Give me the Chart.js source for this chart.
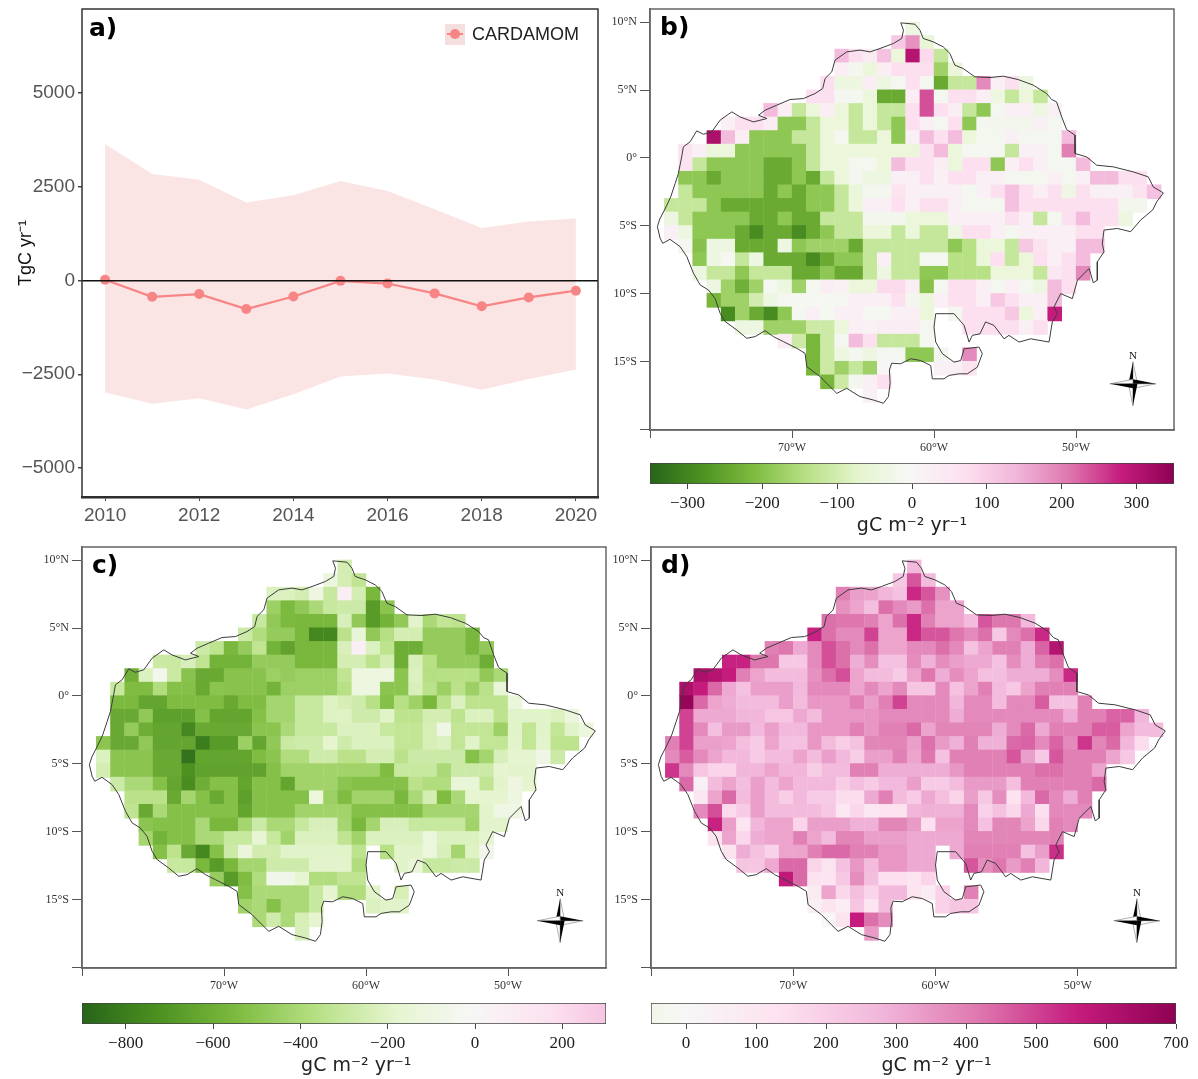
<!DOCTYPE html>
<html>
<head>
<meta charset="utf-8">
<script src="https://cdn.jsdelivr.net/npm/chart.js@4/dist/chart.umd.min.js"></script>
<style>
  body { margin: 0; background: #fff; }
  #page { position: relative; width: 1198px; height: 1079px; overflow: hidden; }
  canvas { position: absolute; }
</style>
</head>
<body>
<div id="page">
  <canvas id="panelA" style="left:0;top:6px" width="604" height="524"></canvas>
  <canvas id="panelB" style="left:605px;top:6px" width="572" height="459"></canvas>
  <canvas id="panelC" style="left:37px;top:544px" width="572" height="459"></canvas>
  <canvas id="panelD" style="left:606px;top:544px" width="573" height="459"></canvas>
  <canvas id="barB" style="left:630px;top:461px" width="564" height="76"></canvas>
  <canvas id="barC" style="left:62px;top:1001px" width="564" height="76"></canvas>
  <canvas id="barD" style="left:631px;top:1001px" width="565" height="76"></canvas>
</div>
<script>
// panel a: yearly flux with its range
const years = [2010, 2011, 2012, 2013, 2014, 2015, 2016, 2017, 2018, 2019, 2020];
const fluxMean = [18, -434, -362, -760, -425, -9, -81, -344, -688, -452, -271];
const fluxUpper = [3638, 2842, 2688, 2081, 2271, 2652, 2389, 1900, 1403, 1575, 1656];
const fluxLower = [-2986, -3285, -3140, -3439, -3032, -2561, -2480, -2643, -2914, -2625, -2371];
const fluxTicks = [-5000, -2500, 0, 2500, 5000];
const yearTicks = [2010, 2012, 2014, 2016, 2018, 2020];

// map grid: each row has its northern edge and the western edge of its first 1 degree cell
const rowLats = [10, 9, 8, 7, 6, 5, 4, 3, 2, 1, 0, -1, -2, -3, -4, -5, -6, -7, -8, -9, -10, -11, -12, -13, -14, -15, -16, -17];
const rowStarts = [-62, -63, -67, -67, -68, -69, -72, -75, -77, -78, -78, -78, -78, -79, -79, -79, -78, -77, -77, -76, -76, -75, -74, -71, -69, -69, -68, -65];

const mapB = [
  [-40],
  [110, 180, -60],
  [130, 70, 40, 120, -50, 300, 80, -120],
  [30, -15, -50, 30, 70, 70, 70, -170, -50],
  [70, -40, -40, 30, -40, -15, 70, -15, -240, -120, -120, 190, 25, 70, -40],
  [70, 70, -15, -15, -50, -240, -240, 30, 240, -15, 70, 70, 30, -40, -120, -50, -120],
  [130, 30, -120, -50, 30, -50, -120, -50, -120, -120, 70, 240, 70, 30, -120, -190, -15, 25, 25, -40, 20],
  [25, 70, 70, 30, -190, -190, -120, -50, -50, -120, -50, -120, -190, 70, 25, -15, 70, -190, -15, -20, -20, -20, 20, -15],
  [null, 310, 130, 30, -190, -190, -190, -120, -120, -50, -15, -120, -120, -50, -190, 20, 130, 70, 130, -50, -15, -15, 20, -15, -15, -15, 130],
  [60, 25, -50, -50, -190, -190, -190, -190, -190, -120, -50, -50, -50, -50, -50, -50, -50, 70, 130, -50, -15, -15, -15, -120, 20, 20, -15, 200],
  [60, -120, -190, -190, -190, -190, -240, -240, -190, -120, -50, -50, -15, -15, -50, 130, 70, 70, 30, -50, 70, 70, -190, 25, 70, 25, -15, -15, 130],
  [-190, -190, -240, -190, -190, -190, -240, -240, -190, -240, -120, -50, -15, -40, -40, 25, 25, 70, 25, 70, 70, 25, 25, -15, -15, -15, 25, -15, 25, 130, 130, 70, 70],
  [-120, -190, -190, -190, -190, -190, -240, -190, -240, -190, -190, -120, -50, -15, -15, 60, 25, 20, 20, 20, -15, 25, 70, 120, 70, 30, 70, -30, 70, 20, 20, 20, 60, 120],
  [-120, -120, -120, -190, -240, -240, -240, -240, -240, -240, -190, -190, -120, -50, 25, 25, 70, 25, 70, 70, 20, -15, -15, -15, 120, 70, 70, 70, 70, 70, 70, 70, -20, -20],
  [-40, -120, -190, -190, -190, -190, -240, -240, -190, -240, -240, -120, -120, -120, -20, -20, -20, -50, -50, -50, 25, 25, 25, 25, 70, 25, -120, -15, 70, 130, 70, 70, -40],
  [20, -40, -190, -190, -190, -240, -290, -240, -240, -290, -240, -190, -120, -120, -50, -50, -120, -50, -120, -120, -40, 70, 70, 25, -15, 25, 25, 25, 25, 70, 70],
  [-15, -200, -40, -40, -240, -240, -240, -40, -190, -170, -170, -170, -240, -120, -120, -120, -120, -120, -120, -190, -140, -50, -50, -120, 110, 60, 25, 25, 130, 130],
  [-190, -40, -10, -120, -40, -240, -240, -240, -290, -240, -190, -190, -120, 25, -120, -120, -15, -15, -140, -140, -50, 70, -120, -50, 70, 25, 70, 130],
  [-40, -120, -120, -190, -120, -120, -120, -240, -240, -190, -240, -240, -120, -40, -120, -120, -190, -190, -140, -140, -140, -50, -50, -50, -120, 50, 70, 190],
  [-40, -170, -230, -170, -15, -40, -170, -15, 30, 15, -50, -50, 80, 80, 30, -200, -15, 70, 70, 25, -15, 25, -15, -40, 130, 70],
  [-220, -170, -170, -100, -40, -15, -10, -10, -10, -10, 25, 25, 25, 70, -15, -50, 25, 70, 70, 25, 110, 70, 25, 25, 130],
  [-290, -170, -240, -290, -190, -15, 25, -10, 25, 25, -10, -10, 25, 25, -50, null, -15, 70, 70, 70, 110, -50, 25, 280],
  [-40, -40, -170, -170, -170, -110, -110, -50, 25, 15, 30, 30, 30, -15, null, null, 70, 70, 70, 70, 25, 70],
  [30, -110, -220, -110, -15, 130, 70, -120, -120, -120, -15],
  [-220, -110, -40, -15, -40, -15, -15, -190, -190, -15, null, 190],
  [-220, -110, -170, -120, -170, 5, null, null, null, 20, 20, 60],
  [-220, -110, -15, 20, 70],
  [20]
];

const mapC = [
  [-250],
  [-120, -250, -330],
  [-220, -220, -250, -100, -300, 80, -250, -560],
  [-450, -550, -480, -400, -300, -280, -280, -680, -500],
  [-300, -480, -550, -560, -560, -560, -230, -480, -680, -580, -480, -190, -400, -320, -340],
  [-280, -380, -470, -470, -560, -760, -760, -350, -150, -480, -370, -250, -250, -470, -470, -470, -560],
  [-280, -340, -560, -470, -330, -580, -650, -560, -560, -560, -230, 60, -220, -340, -600, -600, -470, -470, -470, -560, -480],
  [-290, -290, -230, -330, -580, -580, -580, -470, -470, -470, -560, -560, -560, -250, -250, -340, -250, -600, -230, -360, -470, -470, -470, -600],
  [-590, -220, -50, -290, -510, -620, -620, -510, -510, -510, -450, -470, -450, -450, -450, -330, -110, -110, -100, -500, -220, -370, -360, -360, -360, -480, -400],
  [-300, -540, -540, -380, -520, -520, -620, -500, -510, -510, -510, -580, -450, -450, -450, -450, -360, -110, -110, -500, -500, -230, -350, -450, -350, -450, -350, -150],
  [-550, -550, -640, -640, -540, -540, -540, -540, -620, -540, -540, -420, -420, -300, -300, -210, -240, -270, -360, -520, -360, -440, -560, -350, -220, -340, -340, -340, -130],
  [-620, -620, -480, -660, -660, -660, -520, -640, -640, -640, -520, -420, -420, -300, -300, -210, -210, -270, -270, -200, -340, -340, -250, -250, -340, -220, -220, -340, -200, -200, -200, -220, -120],
  [-620, -470, -600, -640, -640, -760, -620, -620, -620, -620, -500, -500, -400, -300, -300, -300, -220, -220, -220, -300, -320, -320, -240, -80, -320, -320, -320, -450, -200, -320, -200, -320, -200, -120],
  [-500, -620, -620, -480, -640, -640, -640, -800, -680, -680, -450, -640, -480, -290, -270, -270, -180, -270, -220, -220, -220, -320, -320, -240, -220, -320, -200, -320, -320, -190, -320, -190, -340, -340],
  [-220, -500, -500, -500, -620, -620, -840, -640, -640, -640, -640, -540, -500, -380, -380, -270, -270, -350, -350, -250, -250, -350, -280, -280, -280, -280, -520, -420, -230, -180, -180, -80, -280],
  [-250, -500, -500, -500, -620, -620, -720, -650, -650, -650, -650, -650, -520, -430, -430, -430, -430, -430, -430, -430, -540, -300, -300, -300, -400, -280, -280, -280, -180, -190, -190],
  [-280, -400, -400, -520, -640, -740, -600, -520, -520, -640, -520, -520, -640, -430, -430, -430, -500, -520, -520, -520, -520, -350, -380, -380, -150, -150, -330, -190, -100, -180],
  [-350, -350, -350, -620, -420, -520, -620, -520, -660, -520, -520, -520, -520, -130, -450, -540, -430, -430, -430, -560, -400, -250, -540, -400, -180, -180, -180, -100],
  [-330, -620, -400, -520, -520, -520, -520, -520, -640, -520, -520, -520, -430, -430, -430, -430, -520, -520, -520, -520, -520, -420, -420, -420, -420, -190, -90, -90],
  [-500, -520, -520, -520, -400, -560, -560, -420, -280, -400, -400, -300, -230, -230, -420, -560, -420, -230, -230, -300, -300, -300, -300, -430, -190, -190],
  [-420, -580, -520, -520, -400, -400, -300, -300, -160, -300, -430, -220, -220, -220, -330, -430, -220, -220, -220, -220, -120, -220, -220, -220, -180],
  [-520, -340, -620, -760, -520, -280, -140, -260, -260, -200, -200, -200, -200, -200, -340, null, -360, -200, -200, -120, -230, -420, -210, -60],
  [-300, -300, -560, -680, -560, -420, -420, -270, -270, -270, -190, -190, -190, -380, null, null, -200, -150, -300, -300, -280, -280],
  [-460, -680, -540, -380, -60, -60, -170, -380, -380, -330, -330],
  [-520, -400, -400, -400, -400, -300, -180, -380, -380, -200, null, -240],
  [-430, -400, -520, -400, -400, -300, null, null, null, -220, -200, -200],
  [-400, -270, -400, -240, -180],
  [-230]
];

const mapD = [
  [270],
  [220, 470, 260],
  [400, 330, 320, 280, 240, 540, 470, 360],
  [360, 320, 250, 430, 380, 340, 430, 320, 320],
  [430, 420, 420, 400, 320, 430, 540, 400, 320, 320, 260, 470, 420, 420, 270],
  [550, 430, 380, 380, 500, 320, 320, 540, 470, 470, 420, 380, 430, 220, 380, 430, 540],
  [400, 420, 310, 380, 480, 430, 380, 430, 320, 320, 380, 380, 430, 380, 240, 320, 400, 400, 300, 450, 600],
  [550, 550, 420, 420, 220, 220, 380, 480, 430, 300, 370, 240, 240, 370, 290, 370, 330, 310, 310, 240, 370, 300, 400, 430],
  [620, 600, 560, 400, 320, 260, 260, 260, 360, 430, 480, 320, 260, 260, 210, 320, 420, 300, 370, 320, 250, 250, 300, 300, 300, 370, 540],
  [620, 560, 440, 310, 240, 330, 330, 330, 270, 380, 380, 380, 320, 380, 320, 380, 230, 230, 380, 240, 320, 400, 260, 220, 320, 400, 400, 400],
  [680, 440, 320, 300, 260, 260, 260, 330, 260, 350, 350, 350, 400, 330, 400, 500, 380, 380, 380, 280, 380, 380, 260, 380, 380, 460, 240, 240, 400],
  [500, 310, 310, 310, 280, 280, 230, 230, 310, 260, 350, 350, 350, 350, 380, 380, 380, 380, 380, 300, 380, 380, 380, 380, 380, 380, 380, 300, 400, 400, 450, 450, 280],
  [500, 380, 250, 340, 340, 270, 330, 270, 270, 350, 350, 350, 400, 350, 400, 400, 440, 320, 390, 390, 390, 390, 300, 380, 440, 310, 400, 400, 400, 460, 460, 320, 260, 260],
  [400, 500, 330, 330, 320, 250, 210, 320, 240, 240, 350, 260, 200, 240, 390, 390, 390, 330, 430, 340, 290, 400, 290, 290, 440, 450, 380, 450, 380, 520, 390, 440, 280, 150],
  [380, 460, 380, 320, 270, 270, 210, 260, 260, 320, 260, 330, 270, 200, 330, 330, 400, 320, 420, 240, 400, 400, 400, 400, 470, 330, 220, 470, 400, 400, 400, 320, 220],
  [520, 380, 230, 180, 180, 280, 280, 320, 280, 280, 200, 260, 260, 400, 400, 300, 300, 300, 300, 300, 350, 400, 400, 400, 400, 400, 430, 430, 400, 400, 320],
  [440, 40, 260, 320, 250, 330, 260, 320, 270, 270, 270, 200, 250, 210, 270, 270, 330, 210, 210, 260, 340, 340, 340, 250, 400, 400, 400, 400, 400, 440],
  [100, 320, 440, 260, 330, 260, 200, 270, 210, 210, 150, 150, 310, 400, 260, 210, 310, 250, 180, 330, 220, 370, 130, 270, 440, 380, 300, 400],
  [380, 480, 160, 210, 330, 260, 260, 260, 260, 220, 90, 170, 100, 130, 130, 280, 290, 290, 290, 380, 190, 240, 170, 310, 140, 380, 380, 380],
  [550, 330, 110, 280, 320, 320, 180, 330, 330, 330, 290, 290, 390, 390, 340, 140, 320, 320, 380, 240, 390, 390, 320, 170, 400, 380],
  [120, 320, 170, 300, 320, 320, 400, 320, 260, 390, 390, 330, 330, 330, 310, 310, 310, 310, 390, 390, 390, 390, 390, 390, 400],
  [120, 300, 240, 190, 320, 320, 400, 440, 440, 400, 400, 350, 350, 310, 310, null, 310, 400, 400, 400, 400, 240, 330, 530],
  [230, 230, 310, 440, 440, 180, 120, 240, 350, 260, 350, 350, 310, 310, null, null, 470, 370, 420, 340, 400, 280],
  [570, 440, 130, 110, 220, 370, 250, 140, 140, 110, 180],
  [80, 320, 170, 250, 180, 270, 270, 110, 70, 190, null, 400],
  [40, 110, 60, 230, 110, 260, null, null, null, 190, 230, 230],
  [0, 130, 560, 430, 370],
  [340]
];

// basin outline, walked clockwise from the Pacific side
const outlineLons = [-79.29, -78.87, -78.54, -78.23, -78, -77.77, -77.65, -77.18, -76.71, -76.24, -75.65, -75.06, -74.24, -73.66, -72.72, -71.77, -72.36, -71.9, -71.08, -70.14, -69.2, -68.38, -67.84, -67.67, -67.2, -66.97, -66.15, -65.21, -64.5, -63.8, -62.86, -62.27, -62.15, -62.34, -61.34, -60.99, -60.76, -60.05, -59.35, -58.88, -58.53, -57.94, -57.12, -56.06, -55.12, -54.07, -53.01, -52.07, -51.72, -51.37, -51.01, -50.66, -50.07, -50.07, -49.25, -48.54, -47.38, -45.97, -44.91, -44.56, -43.85, -44.32, -44.6, -45.45, -46.15, -47.09, -48.03, -48.15, -48.03, -48.5, -48.5, -48.78, -49.08, -49.9, -50.26, -51.08, -51.55, -51.31, -51.67, -51.9, -53.19, -54.01, -54.72, -55.07, -55.78, -56.37, -56.76, -57.3, -57.53, -57.88, -58.59, -59.88, -60, -59.88, -59.41, -58.59, -58.12, -57.88, -56.83, -56.6, -56.95, -57.65, -58.23, -58.94, -59.3, -60.12, -60.23, -60.94, -61.64, -62.35, -62.98, -63.14, -63.09, -63.21, -63.56, -64.27, -65.21, -66.15, -66.85, -67.32, -68.02, -68.96, -69.08, -69.67, -70.6, -71.31, -71.9, -72.6, -73.19, -73.89, -74.71, -75.06, -75.42, -75.89, -76.47, -76.94, -77.41, -77.88, -78.59, -79.1, -79.29, -79.48, -79.29];
const outlineLats = [-4.47, -3.61, -2.87, -1.89, -1.15, 0.07, 0.81, 1.18, 1.99, 1.74, 1.92, 2.78, 3.39, 3.02, 2.65, 2.9, 3.14, 3.51, 3.88, 4.3, 4.37, 4.74, 5.11, 5.85, 6.34, 7.2, 7.81, 7.94, 7.81, 8.06, 8.43, 8.8, 9.41, 9.95, 9.85, 9.41, 8.8, 8.55, 8.18, 7.69, 6.83, 6.58, 5.97, 5.92, 6.02, 5.77, 5.36, 4.74, 4.3, 4.13, 3.02, 2.09, 1.67, 0.32, 0.07, -0.54, -0.66, -1.03, -1.4, -2.14, -2.58, -3.24, -3.84, -4.58, -5.44, -5.2, -5.32, -6.31, -6.92, -7.66, -9.01, -9.2, -8.15, -9.01, -10.37, -10, -10.99, -11.48, -12.09, -13.57, -13.33, -13.57, -13.08, -13.33, -12.34, -12.09, -12.96, -13.08, -13.57, -12.34, -11.48, -11.48, -12.46, -13.57, -14.43, -15.05, -14.93, -14.07, -13.94, -14.43, -15.42, -15.91, -15.91, -16.03, -16.28, -16.28, -15.3, -14.93, -14.8, -15.17, -15.13, -15.62, -16.61, -17.59, -18.08, -17.84, -17.59, -16.98, -17.35, -16.86, -16.12, -15.38, -14.4, -14.03, -13.54, -13.17, -12.73, -13.17, -13.29, -12.68, -12.06, -11.45, -10.35, -9.73, -9.36, -8.5, -7.27, -6.54, -6, -6.29, -5.92, -5.06, -4.45];

const lonTicks = [-80, -70, -60, -50];
const lonLabels = ['', '70°W', '60°W', '50°W'];
const latTicks = [10, 5, 0, -5, -10, -15, -20];
const latLabels = ['10°N', '5°N', '0°', '5°S', '10°S', '15°S', ''];

const barTicksB = [-300, -200, -100, 0, 100, 200, 300];
const barTicksC = [-800, -600, -400, -200, 0, 200];
const barTicksD = [0, 100, 200, 300, 400, 500, 600, 700];

const PIYG = ['#276419', '#4d9221', '#7fbc41', '#b8e186', '#e6f5d0', '#f7f7f7', '#fde0ef', '#f1b6da', '#de77ae', '#c51b7d', '#8e0152'];

Chart.defaults.animation = false;
Chart.defaults.responsive = false;
Chart.defaults.events = [];
Chart.defaults.plugins.legend.display = false;
Chart.defaults.plugins.tooltip.enabled = false;
// big cell markers must not shrink the chart area
Chart.defaults.layout.autoPadding = false;

function piyg(t) {
  const pos = (Math.max(-1, Math.min(1, t)) + 1) * 5;
  const i = Math.min(9, Math.floor(pos));
  const f = pos - i;
  const a = parseInt(PIYG[i].slice(1), 16);
  const b = parseInt(PIYG[i + 1].slice(1), 16);
  const mix = (shift) => Math.round(((a >> shift) & 255) * (1 - f) + ((b >> shift) & 255) * f);
  return `rgb(${mix(16)},${mix(8)},${mix(0)})`;
}

// the tick labels would otherwise push the chart area in by half a label
function fitAxis(s, size) {
  if (s.isHorizontal()) s.height = size; else s.width = size;
  s.paddingLeft = s.paddingRight = s.paddingTop = s.paddingBottom = 0;
}

function panelLetter(ctx, text, x, y) {
  ctx.save();
  ctx.font = 'bold 25px "DejaVu Sans"';
  ctx.fillStyle = '#000';
  ctx.textAlign = 'left';
  ctx.textBaseline = 'alphabetic';
  ctx.fillText(text, x, y);
  ctx.restore();
}

function drawCompass(ctx, cx, cy) {
  ctx.save();
  ctx.font = '11px "Liberation Serif"';
  ctx.fillStyle = '#111';
  ctx.textAlign = 'center';
  ctx.textBaseline = 'middle';
  ctx.fillText('N', cx, cy - 28);
  const arms = [[0, -22], [23, 0], [0, 22], [-23, 0]];
  arms.forEach(([dx, dy]) => {
    const len = Math.hypot(dx, dy);
    const nx = -dy / len * 4.5;
    const ny = dx / len * 4.5;
    ctx.beginPath();
    ctx.moveTo(cx + dx, cy + dy);
    ctx.lineTo(cx + nx, cy + ny);
    ctx.lineTo(cx, cy);
    ctx.closePath();
    ctx.fillStyle = '#fff';
    ctx.strokeStyle = '#777';
    ctx.lineWidth = 0.6;
    ctx.fill();
    ctx.stroke();
    ctx.beginPath();
    ctx.moveTo(cx + dx, cy + dy);
    ctx.lineTo(cx - nx, cy - ny);
    ctx.lineTo(cx, cy);
    ctx.closePath();
    ctx.fillStyle = '#000';
    ctx.fill();
  });
  ctx.restore();
}

function makeMap(id, rows, norm, letter, compassLon, compassLat) {
  const cells = [];
  const colors = [];
  rowLats.forEach((lat, r) => {
    rows[r].forEach((v, c) => {
      if (v === null) return;
      cells.push({ x: rowStarts[r] + c + 0.5, y: lat - 0.5 });
      colors.push(piyg(v / norm));
    });
  });
  const outline = outlineLons.map((lon, i) => ({ x: lon, y: outlineLats[i] }));
  const serif = { family: '"Liberation Serif"', size: 12 };
  return new Chart(document.getElementById(id), {
    type: 'scatter',
    data: {
      datasets: [
        { data: outline, showLine: true, borderColor: '#3c3c3c', borderWidth: 1, pointRadius: 0 },
        { data: cells, pointStyle: 'rect', pointRadius: 10.3, pointBorderWidth: 0, pointBackgroundColor: colors },
      ],
    },
    options: {
      layout: { padding: { top: 3, right: 3 } },
      scales: {
        x: {
          type: 'linear', min: -80, max: -43.1,
          afterBuildTicks: (s) => { s.ticks = lonTicks.map((value) => ({ value })); },
          afterFit: (s) => fitAxis(s, 35),
          grid: { drawOnChartArea: false, tickLength: 8, tickColor: '#555' },
          border: { color: '#666', width: 1.5 },
          ticks: { autoSkip: false, maxRotation: 0, padding: 3, color: '#333', font: serif, callback: (v, i) => lonLabels[i] },
        },
        y: {
          type: 'linear', min: -20.05, max: 10.97,
          afterBuildTicks: (s) => { s.ticks = latTicks.map((value) => ({ value })); },
          afterFit: (s) => fitAxis(s, 45),
          grid: { drawOnChartArea: false, tickLength: 10, tickColor: '#555' },
          border: { color: '#666', width: 1.5 },
          ticks: { autoSkip: false, padding: 3, color: '#333', font: serif, callback: (v, i) => latLabels[i] },
        },
      },
    },
    plugins: [{
      id: 'mapFrame',
      afterDraw(chart) {
        const { ctx, chartArea: a, scales } = chart;
        ctx.save();
        ctx.strokeStyle = '#666';
        ctx.lineWidth = 1.5;
        ctx.strokeRect(a.left, a.top, a.right - a.left, a.bottom - a.top);
        ctx.restore();
        panelLetter(ctx, letter, a.left + 10, a.top + 26);
        drawCompass(ctx, scales.x.getPixelForValue(compassLon), scales.y.getPixelForValue(compassLat));
      },
    }],
  });
}

function makeColorbar(id, vmin, vmax, norm, tickValues, unitCentre) {
  return new Chart(document.getElementById(id), {
    type: 'bar',
    data: {
      labels: [''],
      datasets: [{
        data: [[vmin, vmax]],
        barPercentage: 1,
        categoryPercentage: 1,
        borderWidth: 1,
        borderColor: '#444',
        borderSkipped: false,
        backgroundColor(c) {
          const a = c.chart.chartArea;
          if (!a) return '#fff';
          const g = c.chart.ctx.createLinearGradient(a.left, 0, a.right, 0);
          for (let i = 0; i <= 50; i++) {
            g.addColorStop(i / 50, piyg((vmin + (vmax - vmin) * i / 50) / norm));
          }
          return g;
        },
      }],
    },
    options: {
      indexAxis: 'y',
      layout: { padding: { left: 20, right: 20, top: 2 } },
      scales: {
        y: { display: false },
        x: {
          type: 'linear', min: vmin, max: vmax,
          afterBuildTicks: (s) => { s.ticks = tickValues.map((value) => ({ value })); },
          afterFit: (s) => fitAxis(s, 53),
          grid: { drawOnChartArea: false, tickLength: 5, tickColor: '#444' },
          border: { display: false },
          ticks: {
            autoSkip: false, maxRotation: 0, padding: 4, color: '#222',
            font: { family: '"Liberation Serif"', size: 17 },
            callback: (v) => String(v).replace('-', '\u2212'),
          },
        },
      },
    },
    plugins: [{
      // the unit label sits off the bar's centre, so it is placed by value
      id: 'unitLabel',
      afterDraw(chart) {
        const { ctx, scales } = chart;
        ctx.save();
        ctx.font = '19px "DejaVu Sans"';
        ctx.fillStyle = '#222';
        ctx.textAlign = 'center';
        ctx.textBaseline = 'middle';
        ctx.fillText('gC m⁻² yr⁻¹', scales.x.getPixelForValue(unitCentre), 65);
        ctx.restore();
      },
    }],
  });
}

new Chart(document.getElementById('panelA'), {
  type: 'line',
  data: {
    labels: years,
    datasets: [
      {
        label: 'CARDAMOM',
        data: years.map((x, i) => ({ x, y: fluxMean[i] })),
        borderColor: '#f88585', borderWidth: 2.2,
        pointRadius: 5, pointBackgroundColor: '#f88585', pointBorderWidth: 0,
      },
      {
        data: years.map((x, i) => ({ x, y: fluxUpper[i] })),
        borderWidth: 0, pointRadius: 0, backgroundColor: '#fbe4e4', fill: '+1',
      },
      {
        data: years.map((x, i) => ({ x, y: fluxLower[i] })),
        borderWidth: 0, pointRadius: 0,
      },
    ],
  },
  options: {
    layout: { padding: { top: 3, right: 6 } },
    scales: {
      x: {
        type: 'linear', min: 2009.51, max: 2020.47,
        afterBuildTicks: (s) => { s.ticks = yearTicks.map((value) => ({ value })); },
        afterFit: (s) => fitAxis(s, 33),
        grid: { drawOnChartArea: false, tickLength: 4, tickColor: '#444' },
        border: { color: '#222', width: 2.5 },
        ticks: { autoSkip: false, maxRotation: 0, padding: 3, color: '#555', font: { family: '"Liberation Sans"', size: 19 }, callback: (v) => String(v) },
      },
      y: {
        type: 'linear', min: -5773, max: 7240,
        afterBuildTicks: (s) => { s.ticks = fluxTicks.map((value) => ({ value })); },
        afterFit: (s) => fitAxis(s, 82),
        grid: {
          z: 1, tickLength: 4, tickColor: '#444', lineWidth: 1.5,
          color: (c) => (c.tick && c.tick.value === 0 ? '#111' : 'rgba(0,0,0,0)'),
        },
        border: { display: false },
        ticks: { autoSkip: false, padding: 3, color: '#555', font: { family: '"Liberation Sans"', size: 19 }, callback: (v) => String(v).replace('-', '\u2212') },
        title: { display: true, text: 'TgC yr⁻¹', color: '#111', padding: { top: 15, bottom: 0 }, font: { family: '"Liberation Sans"', size: 18 } },
      },
    },
  },
  plugins: [{
    id: 'panelAFrame',
    afterDraw(chart) {
      const { ctx, chartArea: a } = chart;
      ctx.save();
      ctx.strokeStyle = '#333';
      ctx.lineWidth = 1.5;
      ctx.strokeRect(a.left, a.top, a.right - a.left, a.bottom - a.top);
      // legend key and label
      ctx.fillStyle = '#f5dede';
      ctx.fillRect(445, 18, 20, 21);
      ctx.strokeStyle = '#f88585';
      ctx.lineWidth = 2;
      ctx.beginPath();
      ctx.moveTo(447, 28);
      ctx.lineTo(463, 28);
      ctx.stroke();
      ctx.fillStyle = '#f88585';
      ctx.beginPath();
      ctx.arc(455, 28, 5, 0, Math.PI * 2);
      ctx.fill();
      ctx.fillStyle = '#222';
      ctx.font = '18px "Liberation Sans"';
      ctx.textBaseline = 'middle';
      ctx.fillText('CARDAMOM', 472, 29);
      ctx.restore();
      panelLetter(ctx, 'a)', a.left + 7, a.top + 27);
    },
  }],
});

makeMap('panelB', mapB, 350, 'b)', -45.99, -16.65);
makeMap('panelC', mapC, 900, 'c)', -46.33, -16.57);
makeMap('panelD', mapD, 700, 'd)', -45.85, -16.57);

makeColorbar('barB', -350, 350, 350, barTicksB, 0);
makeColorbar('barC', -900, 300, 900, barTicksC, -272);
makeColorbar('barD', -50, 700, 700, barTicksD, 358);
</script>
</body>
</html>
